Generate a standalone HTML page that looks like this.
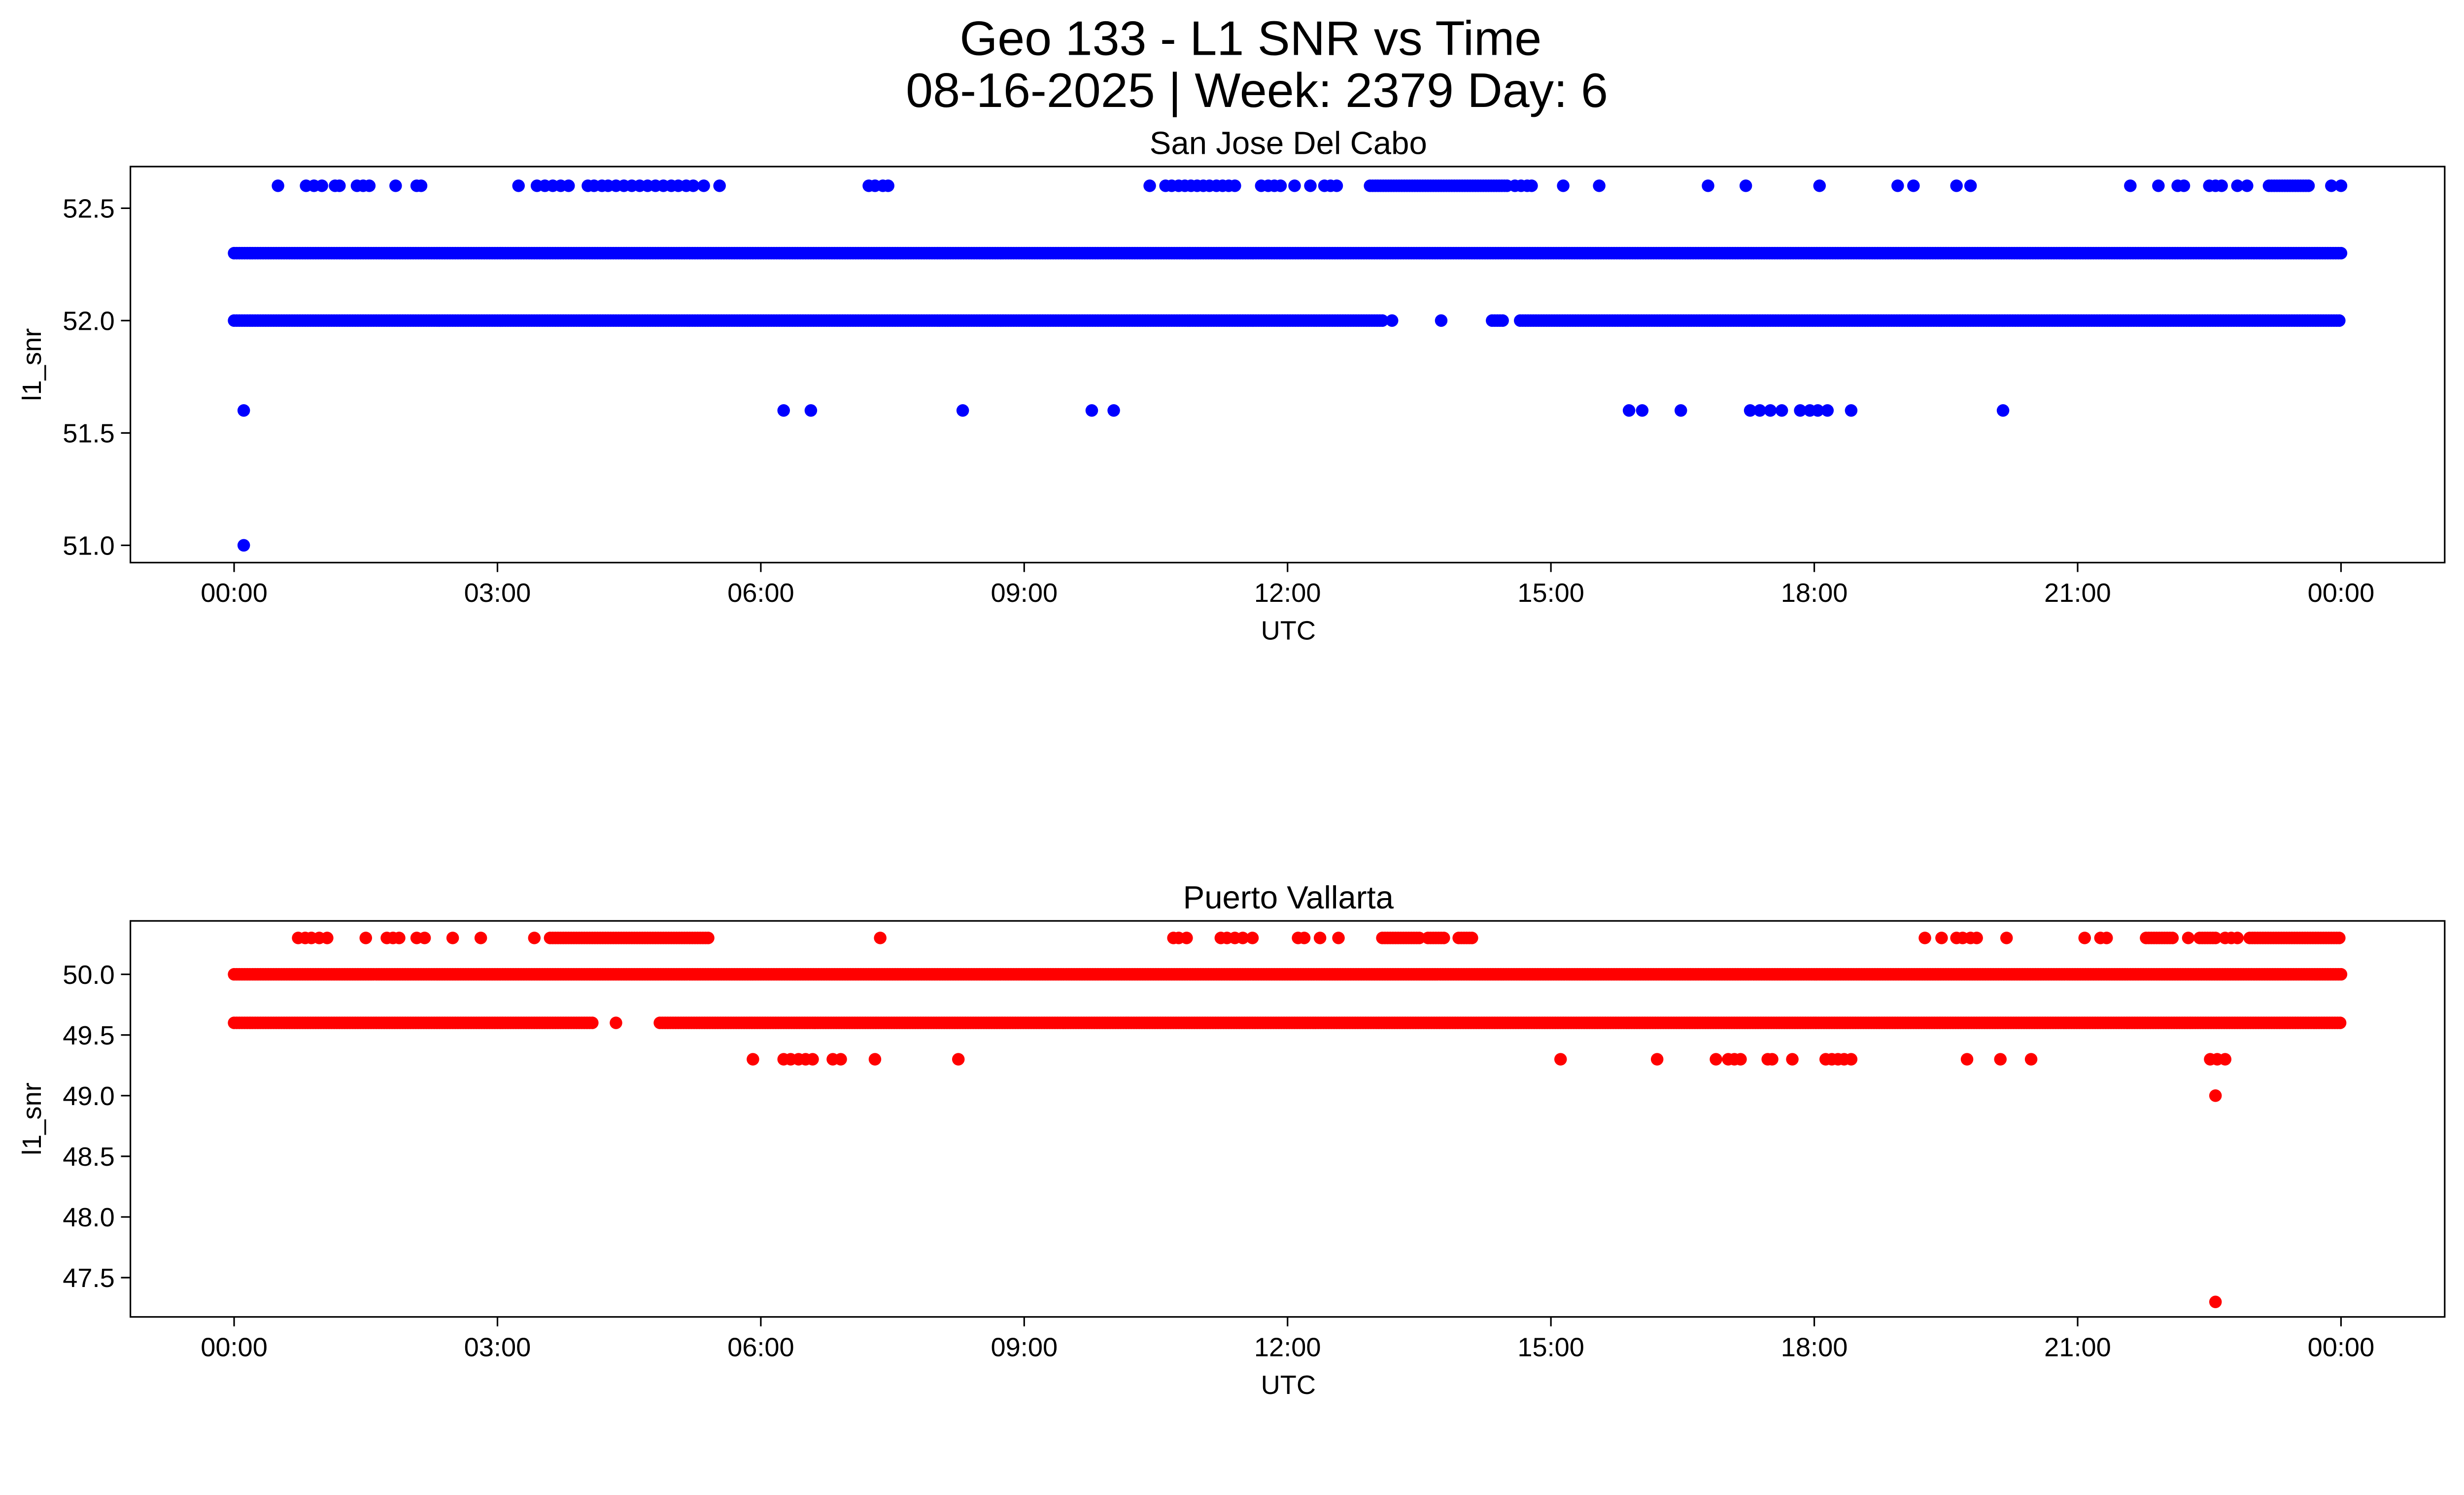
<!DOCTYPE html>
<html><head><meta charset="utf-8"><style>
html,body{margin:0;padding:0;background:#fff;overflow:hidden;}
svg{display:block;font-family:"Liberation Sans","DejaVu Sans",sans-serif;}
</style></head><body>
<svg id="fig" xmlns="http://www.w3.org/2000/svg" width="5000" height="2873">
<g id="root" transform="scale(3.1882)">
<rect x="0" y="0" width="1568" height="901" fill="#fff"/>
<text x="796" y="35" font-size="31" text-anchor="middle">Geo 133 - L1 SNR vs Time</text>
<text x="800" y="68" font-size="31" text-anchor="middle">08-16-2025 | Week: 2379 Day: 6</text>
<g id="top"></g>
<g id="bot"></g>
</g>
</svg>
<script>
const xTickLabels = ["00:00","03:00","06:00","09:00","12:00","15:00","18:00","21:00","00:00"];
const xTickHours = [0,3,6,9,12,15,18,21,24];
// San Jose Del Cabo
const sjdTicks = [51.0,51.5,52.0,52.5];
const sjdPoints526 = [0.50,0.82,0.91,1.00,1.15,1.20,1.40,1.47,1.54,1.84,2.08,2.13,3.24,3.45,3.54,3.63,3.72,3.81,4.03,4.10,4.19,4.26,4.35,4.44,4.53,4.62,4.71,4.80,4.89,4.98,5.06,5.15,5.23,5.35,5.53,7.23,7.30,7.39,7.45,10.43,10.61,10.68,10.76,10.83,10.90,10.97,11.04,11.11,11.19,11.26,11.33,11.40,11.70,11.78,11.85,11.92,12.08,12.26,12.42,12.49,12.56,14.59,14.66,14.73,14.78,15.14,15.55,16.79,17.22,18.06,18.95,19.13,19.62,19.78,21.60,21.92,22.14,22.21,22.50,22.57,22.64,22.82,22.93,23.89,24.0];
const sjdRuns526 = [[12.94,14.51],[23.18,23.64]];
const sjdRuns523 = [[0,24]];
const sjdRuns520 = [[0,13.1],[14.33,14.45],[14.65,24]];
const sjdPoints520 = [13.19,13.75];
const sjdPoints516 = [0.11,6.26,6.57,8.30,9.77,10.02,15.89,16.04,16.48,17.27,17.38,17.50,17.63,17.84,17.95,18.04,18.15,18.42,20.15];
const sjdPoints510 = [0.11];
// Puerto Vallarta
const pvTicks = [47.5,48.0,48.5,49.0,49.5,50.0];
const pvPoints503 = [0.73,0.81,0.88,0.97,1.06,1.50,1.74,1.81,1.88,2.08,2.17,2.49,2.81,3.42,7.36,10.70,10.76,10.85,11.24,11.31,11.40,11.49,11.60,12.12,12.19,12.37,12.58,19.26,19.45,19.62,19.69,19.78,19.85,20.19,21.08,21.26,21.33,22.26,22.68,22.75,22.82];
const pvRuns503 = [[3.6,5.42],[13.08,13.5],[13.6,13.8],[13.95,14.1],[21.78,22.10],[22.39,22.57],[22.96,24]];
const pvRuns500 = [[0,24]];
const pvRuns496 = [[0,4.1],[4.85,24]];
const pvPoints496 = [4.35];
const pvPoints493 = [5.91,6.26,6.34,6.43,6.51,6.59,6.82,6.91,7.30,8.25,15.11,16.21,16.88,17.02,17.09,17.16,17.47,17.52,17.75,18.13,18.20,18.27,18.34,18.42,19.74,20.12,20.47,22.51,22.59,22.68];
const pvPoints490 = [22.57];
const pvPoints473 = [22.57];

const NS="http://www.w3.org/2000/svg";
function mk(tag,attrs,parent){const e=document.createElementNS(NS,tag);for(const k in attrs)e.setAttribute(k,attrs[k]);parent.appendChild(e);return e;}
const X0=83,X1=1556;
function xS(h){return 149+h*(1490-149)/24;}

function panel(gid,top,bottom,yScale,ticks,title,color,pointSets,runSets){
  const g=document.getElementById(gid);
  const marks=mk('g',{},g);
  
  
  function dot(h,v){const c=mk('circle',{cx:xS(h),cy:yScale(v),r:4,fill:color},marks);
    
    }
  runSets.forEach(([runs,v])=>runs.forEach(([a,b])=>{for(let h=a;h<=b+1e-9;h+=0.03)dot(h,v);}));
  pointSets.forEach(([pts,v])=>pts.forEach(h=>dot(h,v)));
  const frame=mk('rect',{x:X0,y:top,width:X1-X0,height:bottom-top,fill:'none',stroke:'#000','stroke-width':1},g);
  
  
  xTickHours.forEach((h,i)=>{const x=xS(h);
    mk('line',{x1:x,x2:x,y1:bottom,y2:bottom+6,stroke:'#000','stroke-width':1},g);
    const t=mk('text',{x:x,y:bottom+25,'font-size':17,'text-anchor':'middle'},g);t.textContent=xTickLabels[i];
    
    });
  ticks.forEach(v=>{const y=yScale(v);
    mk('line',{x1:X0-6,x2:X0,y1:y,y2:y,stroke:'#000','stroke-width':1},g);
    const t=mk('text',{x:X0-10,y:y+6,'font-size':17,'text-anchor':'end'},g);t.textContent=v.toFixed(1);
    
    });
  const xl=mk('text',{x:820,y:bottom+49,'font-size':17,'text-anchor':'middle'},g);xl.textContent='UTC';
  
  
  const cy=(top+bottom)/2;
  const yl=mk('text',{x:26,y:cy,'font-size':17,'text-anchor':'middle',transform:`rotate(-90 26 ${cy})`},g);yl.textContent='l1_snr';
  
  
  const tt=mk('text',{x:820,y:top-8,'font-size':20.5,'text-anchor':'middle'},g);tt.textContent=title;
  
  
}
const yTop=v=>204+(52.0-v)*(347-204)/1.0;
const yBot=v=>620+(50.0-v)*(813-620)/2.5;
panel('top',106,358,yTop,sjdTicks,'San Jose Del Cabo','#0000ff',
  [[sjdPoints526,52.6],[sjdPoints520,52.0],[sjdPoints516,51.6],[sjdPoints510,51.0]],
  [[sjdRuns526,52.6],[sjdRuns523,52.3],[sjdRuns520,52.0]]);
panel('bot',586,838,yBot,pvTicks,'Puerto Vallarta','#ff0000',
  [[pvPoints503,50.3],[pvPoints496,49.6],[pvPoints493,49.3],[pvPoints490,49.0],[pvPoints473,47.3]],
  [[pvRuns503,50.3],[pvRuns500,50.0],[pvRuns496,49.6]]);
</script>
</body></html>
